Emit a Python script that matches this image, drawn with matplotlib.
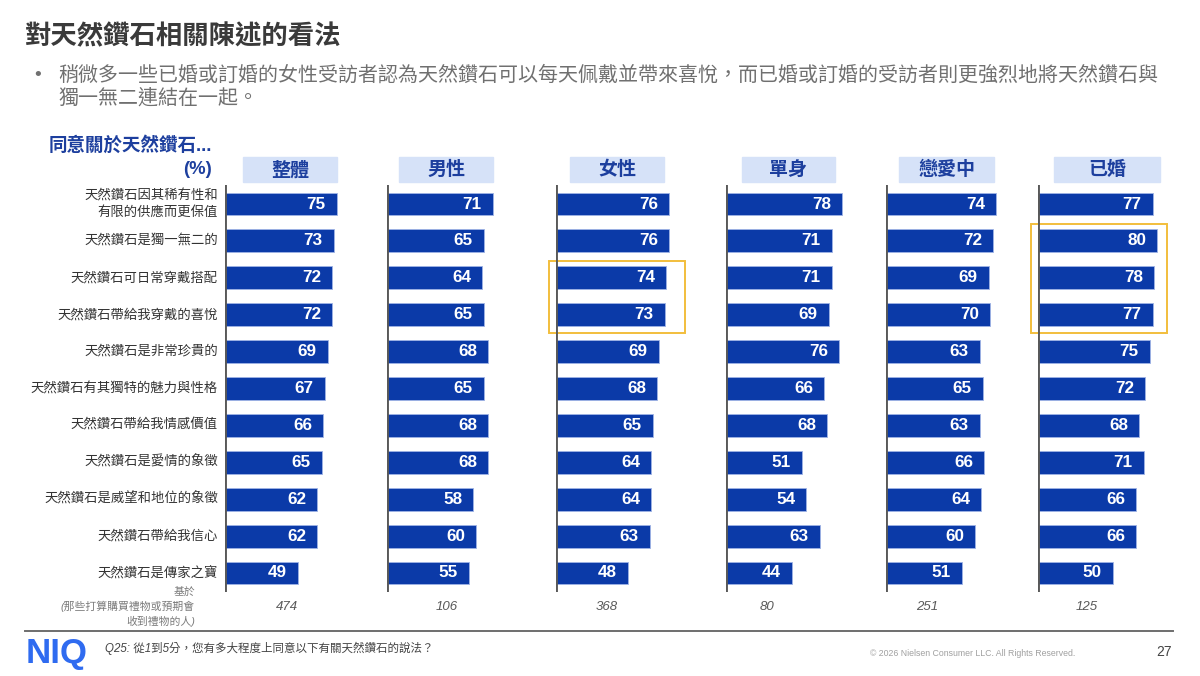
"""Natural diamond statements chart (NIQ slide 27)."""

import matplotlib

matplotlib.use("Agg")
import matplotlib.pyplot as plt
from matplotlib.patches import Rectangle

plt.rcParams["font.family"] = ["Liberation Sans", "Noto Sans CJK TC", "DejaVu Sans"]

# --- data -----------------------------------------------------------------
statements = [
    "天然鑽石因其稀有性和\n有限的供應而更保值",
    "天然鑽石是獨一無二的",
    "天然鑽石可日常穿戴搭配",
    "天然鑽石帶給我穿戴的喜悅",
    "天然鑽石是非常珍貴的",
    "天然鑽石有其獨特的魅力與性格",
    "天然鑽石帶給我情感價值",
    "天然鑽石是愛情的象徵",
    "天然鑽石是威望和地位的象徵",
    "天然鑽石帶給我信心",
    "天然鑽石是傳家之寶",
]
groups = ["整體", "男性", "女性", "單身", "戀愛中", "已婚"]
total = [75, 73, 72, 72, 69, 67, 66, 65, 62, 62, 49]
male = [71, 65, 64, 65, 68, 65, 68, 68, 58, 60, 55]
female = [76, 76, 74, 73, 69, 68, 65, 64, 64, 63, 48]
single = [78, 71, 71, 69, 76, 66, 68, 51, 54, 63, 44]
dating = [74, 72, 69, 70, 63, 65, 63, 66, 64, 60, 51]
married = [77, 80, 78, 77, 75, 72, 68, 71, 66, 66, 50]
bases = [474, 106, 368, 80, 251, 125]
# highlighted statement ranges (group index, first row, last row)
highlights = [(2, 2, 3), (5, 1, 3)]

series = [total, male, female, single, dating, married]

# --- layout (pixels) ---------------------------------------------------------
W, H = 1200, 676
PX_PER_UNIT = 1.49
panel_x = [225, 387, 556, 726, 886, 1038]
header_x = [(243, 337), (399, 493), (570, 664), (742, 835), (899, 994), (1054, 1160)]
base_x = [287, 447, 607, 767, 927, 1087]
AX_TOP, AX_BOTTOM = 185, 592
AX_W = 150

BAR = "#0B3AA8"
HEAD_BG = "#D6E2F8"
HEAD_FG = "#1D3F9E"
GOLD = "#F2BE3C"


def fx(px):
    return px / W


def fy(py):
    return 1 - py / H


fig = plt.figure(figsize=(12, 6.76), dpi=100)

# title and bullet text
fig.text(fx(25), fy(37), "對天然鑽石相關陳述的看法", fontsize=19, weight="bold",
         color="#3a3a3a", va="center", ha="left")
fig.text(fx(34), fy(75), "•", fontsize=14, color="#707070", va="center")
fig.text(fx(58), fy(75),
         "稍微多一些已婚或訂婚的女性受訪者認為天然鑽石可以每天佩戴並帶來喜悅，"
         "而已婚或訂婚的受訪者則更強烈地將天然鑽石與",
         fontsize=14.4, color="#707070", va="center")
fig.text(fx(58), fy(98), "獨一無二連結在一起。", fontsize=14.4, color="#707070",
         va="center")

fig.text(fx(212), fy(145), "同意關於天然鑽石...", fontsize=13.3, weight="bold",
         color=HEAD_FG, ha="right", va="center")
fig.text(fx(212), fy(169), "(%)", fontsize=13.3, weight="bold", color=HEAD_FG,
         ha="right", va="center")

rows = list(range(len(statements)))
axes = []
for g, (x0, vals) in enumerate(zip(panel_x, series)):
    ax = fig.add_axes([fx(x0), fy(AX_BOTTOM), AX_W / W, (AX_BOTTOM - AX_TOP) / H])
    ax.set_xlim(0, AX_W / PX_PER_UNIT)
    ax.set_ylim(len(rows) - 0.485, -0.515)
    ax.axis("off")
    ax.barh(rows, vals, height=0.62, color=BAR, edgecolor="#9fb3e6", linewidth=0.6)
    ax.axvline(0, color="#595959", linewidth=2.8)
    for i, v in zip(rows, vals):
        ax.annotate(str(v), xy=(v, i), xytext=(-8, 0), textcoords="offset points",
                    ha="right", va="center", color="white", weight="bold",
                    fontsize=12.3)
    axes.append(ax)

    # header box
    hx0, hx1 = header_x[g]
    fig.patches.append(Rectangle((fx(hx0), fy(182)), (hx1 - hx0) / W, 25 / H,
                                 transform=fig.transFigure, color=HEAD_BG, zorder=0))
    fig.text(fx((hx0 + hx1) / 2), fy(170), groups[g], fontsize=13.7, weight="bold",
             color=HEAD_FG, ha="center", va="center")

    fig.text(fx(base_x[g]), fy(607), str(bases[g]), fontsize=9.5, style="italic",
             color="#595959", ha="center", va="center")

# statement labels left of first panel
for i, lab in enumerate(statements):
    axes[0].annotate(lab, xy=(0, i), xytext=(-5, 0), textcoords="offset points",
                     ha="right", va="center", fontsize=9.6, color="#333333",
                     linespacing=1.3, annotation_clip=False)

# highlight boxes
for g, r0, r1 in highlights:
    axes[g].add_patch(Rectangle((-4.7, r0 - 0.46), 91.2, r1 - r0 + 0.96,
                                fill=False, edgecolor=GOLD, linewidth=1.4,
                                clip_on=False))

# base description
fig.text(fx(195), fy(607), "基於\n(那些打算購買禮物或預期會\n收到禮物的人)", fontsize=7.8,
         style="italic", color="#7a7a7a", ha="right", va="center", multialignment="right",
         linespacing=1.45)

# footer
fig.add_artist(plt.Line2D([fx(25), fx(1173)], [fy(631), fy(631)], color="#6e6e6e",
                          linewidth=1.4, transform=fig.transFigure))
fig.text(fx(26), fy(654), "NIQ", fontsize=25, weight="bold", color="#2F6BF0",
         va="center", ha="left")
fig.text(fx(105), fy(648), "Q25: 從1到5分，您有多大程度上同意以下有關天然鑽石的說法？",
         fontsize=8.3, style="italic", color="#444444", va="center")
fig.text(fx(1075), fy(654), "© 2026 Nielsen Consumer LLC. All Rights Reserved.",
         fontsize=6.3, color="#a0a0a0", ha="right", va="center")
fig.text(fx(1172), fy(652), "27", fontsize=10, color="#444444", ha="right", va="center")

fig.savefig("out.png", dpi=100)
